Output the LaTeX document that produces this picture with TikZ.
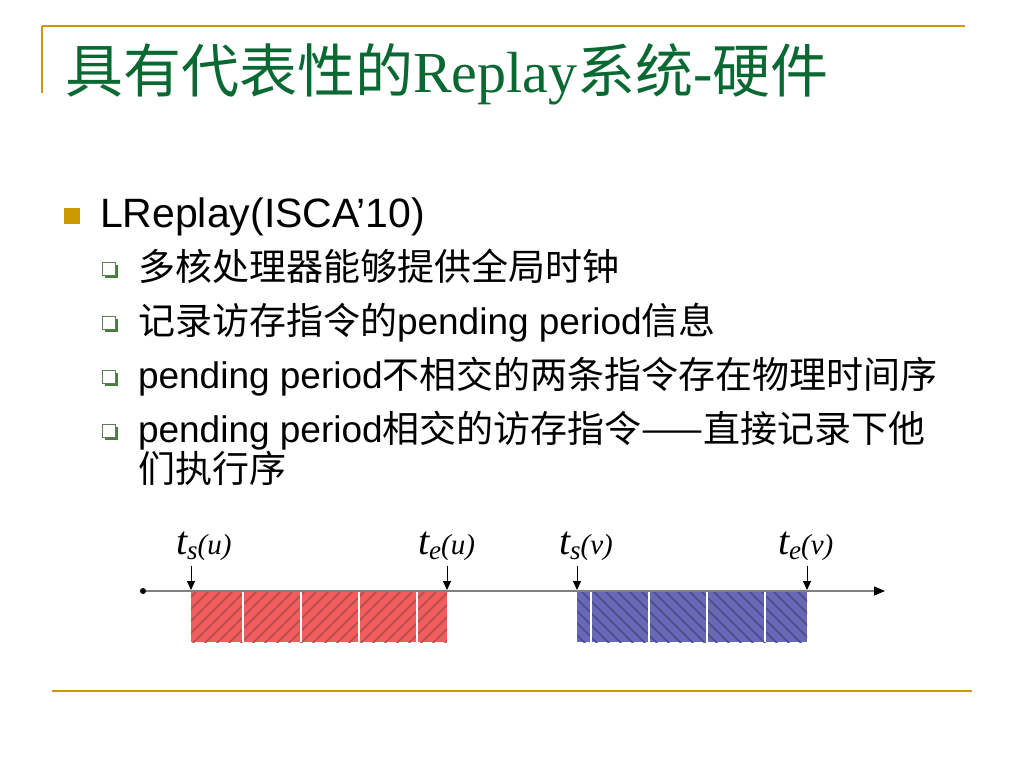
\documentclass[tikz,border=0pt]{standalone}
\usepackage{fontspec}
\setmainfont{Liberation Sans}
\newfontfamily\cjk{Noto Sans CJK SC}
\newfontfamily\tms{Liberation Serif}
\usetikzlibrary{arrows.meta,shadows}
\definecolor{gold}{RGB}{204,153,0}
\definecolor{titlegreen}{RGB}{10,105,50}
\definecolor{redfill}{RGB}{242,92,92}
\definecolor{redhatch}{RGB}{180,78,78}
\definecolor{bluefill}{RGB}{104,104,182}
\definecolor{bluehatch}{RGB}{78,78,138}
\definecolor{bulgreen}{RGB}{70,125,60}
\definecolor{axisgray}{RGB}{128,128,128}
\newcommand\tlab[2]{{\tms\itshape\fontsize{40}{40}\selectfont t}\raisebox{-5pt}{\tms\itshape\fontsize{27}{27}\selectfont #1}{\tms\itshape\fontsize{29}{29}\selectfont(#2)}}
\begin{document}
\begin{tikzpicture}[x=1pt,y=-1pt,
  txt/.style={anchor=base west, inner sep=0pt, outer sep=0pt},
  ttl/.style={txt, text=titlegreen, font=\fontsize{58}{58}\selectfont},
  lone/.style={txt, font=\fontsize{41}{41}\selectfont},
  ltwo/.style={txt, font=\fontsize{37}{40}\selectfont},
  rule/.style={gold, line width=2pt},
  bulA/.style={fill=gold, minimum size=16pt, inner sep=0pt},
  bulB/.style={draw=bulgreen!60!gray, fill=white, line width=1pt, minimum size=13pt, inner sep=0pt,
     drop shadow={shadow xshift=2.5pt, shadow yshift=-2.5pt, fill=bulgreen, opacity=1}},
  blk/.style={minimum height=52pt, inner sep=0pt, outer sep=0pt, anchor=north west},
  redblk/.style={blk, fill=redfill},
  blueblk/.style={blk, fill=bluefill},
  rhatch/.style={redhatch, line width=1.7pt},
  bhatch/.style={bluehatch, line width=1.7pt},
  sepline/.style={white, line width=1.2pt},
  axis/.style={axisgray, line width=1.2pt, -{Triangle[width=9pt,length=11pt,color=black]}},
  darr/.style={black, line width=0.8pt, -{Triangle[width=8pt,length=9pt]}},
  dot/.style={circle, fill=black, minimum size=6pt, inner sep=0pt},
  lbl/.style={txt}
]
\useasboundingbox (0,0) rectangle (1024,768);
\fill[white] (0,0) rectangle (1024,768);

% frame rules
\draw[rule] (42,26) -- (965,26);
\draw[rule] (42,26) -- (42,93);
\draw[gold, line width=2.5pt] (52,691) -- (972,691);

% title
\node[ttl] (title) at (65,92) {{\cjk 具有代表性的}{\tms Replay}{\cjk 系统}{\tms -}{\cjk 硬件}};

% bullets
\node[bulA] (ba) at (72,216) {};
\node[lone] (t1) at (100,227) {LReplay(ISCA’10)};

\node[bulB] (bb1) at (109,269) {};
\node[ltwo] (t2) at (138,280) {{\cjk 多核处理器能够提供全局时钟}};
\node[bulB] (bb2) at (109,323) {};
\node[ltwo] (t3) at (138,334) {{\cjk 记录访存指令的}pending period{\cjk 信息}};
\node[bulB] (bb3) at (109,377) {};
\node[ltwo] (t4) at (138,388) {pending period{\cjk 不相交的两条指令存在物理时间序}};
\node[bulB] (bb4) at (109,431) {};
\node[ltwo] (t5) at (138,442) {pending period{\cjk 相交的访存指令——直接记录下他}};
\node[ltwo] (t6) at (138,482) {{\cjk 们执行序}};

% blocks
\node[redblk, minimum width=256pt] (U) at (191,590) {};
\node[blueblk, minimum width=230pt] (V) at (577,590) {};
\begin{scope}
  \clip (U.north west) rectangle (U.south east);
  \foreach \k in {-60,-48,...,264}{\draw[rhatch] (191+\k,645) -- ++(58,-58);}
\end{scope}
\begin{scope}
  \clip (V.north west) rectangle (V.south east);
  \foreach \k in {-60,-48,...,240}{\draw[bhatch] (577+\k,587) -- ++(58,58);}
\end{scope}
\foreach \xx in {243,301,359,417}{\draw[sepline] (\xx,590) -- (\xx,642);}
\foreach \xx in {591,649,707,765}{\draw[sepline] (\xx,590) -- (\xx,642);}

% axis
\node[dot] (start) at (143,591) {};
\coordinate (axend) at (885,591);
\draw[axis] (start) -- (axend);

% down arrows
\coordinate (a1) at (191,566);
\coordinate (a2) at (447,566);
\coordinate (a3) at (577,566);
\coordinate (a4) at (807,566);
\draw[darr] (a1) -- (U.north west);
\draw[darr] (a2) -- (U.north east);
\draw[darr] (a3) -- (V.north west);
\draw[darr] (a4) -- (V.north east);

% labels
\node[lbl] (l1) at (176,554) {\tlab{s}{u}};
\node[lbl] (l2) at (418,554) {\tlab{e}{u}};
\node[lbl] (l3) at (559,554) {\tlab{s}{v}};
\node[lbl] (l4) at (778,554) {\tlab{e}{v}};
\end{tikzpicture}
\end{document}
